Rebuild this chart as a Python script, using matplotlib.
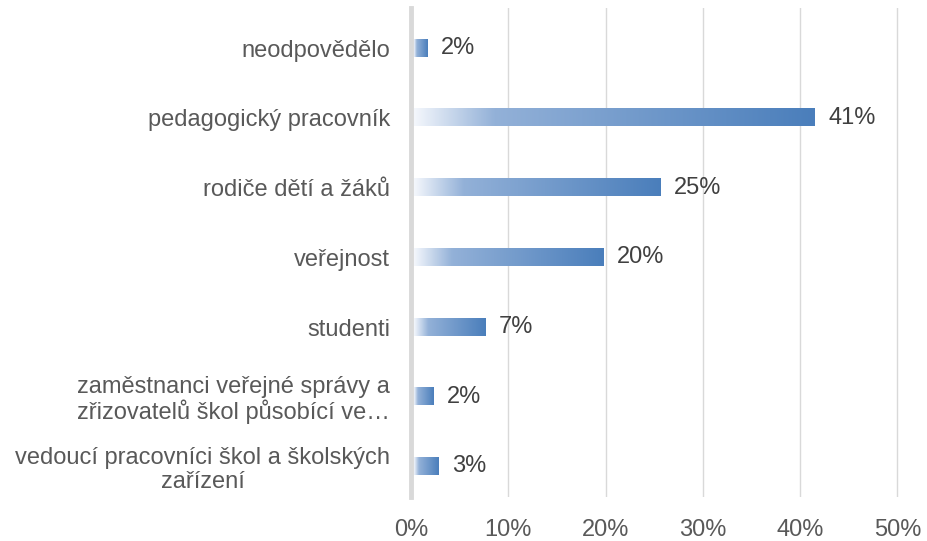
import numpy as np
import matplotlib.pyplot as plt
from matplotlib.colors import LinearSegmentedColormap

plt.rcParams['font.family'] = ['Liberation Sans', 'DejaVu Sans']

# data (top to bottom)
categories = ['neodpovědělo',
              'pedagogický pracovník',
              'rodiče dětí a žáků',
              'veřejnost',
              'studenti',
              'zaměstnanci veřejné správy a\nzřizovatelů škol působící ve…',
              'vedoucí pracovníci škol a školských\nzařízení']
values = [1.7, 41.5, 25.6, 19.8, 7.6, 2.3, 2.8]
labels = ['2%', '41%', '25%', '20%', '7%', '2%', '3%']
xticks = [0, 10, 20, 30, 40, 50]

cat_col = '#595959'
val_col = '#404040'
grad = LinearSegmentedColormap.from_list(
    'bar', [(0.0, '#f4f7fc'), (0.2, '#93b1d8'), (1.0, '#4a7ebb')])

fig = plt.figure(figsize=(9.27, 5.41), dpi=100)
ax = fig.add_axes([0.4434, 0.081, 0.53, 0.905])

h = 0.25
ramp = np.linspace(0, 1, 256).reshape(1, -1)
for i, (v, lab) in enumerate(zip(values, labels)):
    y = len(values) - 1 - i
    ax.imshow(ramp, cmap=grad, aspect='auto', interpolation='bicubic',
              extent=[0.3, v, y - h / 2, y + h / 2], zorder=3)
    ax.text(v + 1.4, y, lab, va='center', ha='left', fontsize=17,
            color=val_col, zorder=4)

ax.set_xlim(0, 50.5)
ax.set_ylim(-0.44, len(values) - 0.42)
ax.set_yticks(range(len(values)))
ax.set_yticklabels(categories[::-1], fontsize=17, color=cat_col,
                   ha='right', multialignment='center', linespacing=1.1)
ax.tick_params(axis='y', length=0, pad=15)
ax.set_xticks(xticks)
ax.set_xticklabels([f'{t}%' for t in xticks], fontsize=17, color=cat_col)
ax.tick_params(axis='x', length=0, pad=16)

ax.grid(axis='x', color='#d9d9d9', linewidth=1, zorder=0)
for s in ['top', 'right', 'bottom']:
    ax.spines[s].set_visible(False)
ax.spines['left'].set_color('#d9d9d9')
ax.spines['left'].set_linewidth(3.5)
ax.spines['left'].set_zorder(5)

fig.savefig('out.png', dpi=100)
